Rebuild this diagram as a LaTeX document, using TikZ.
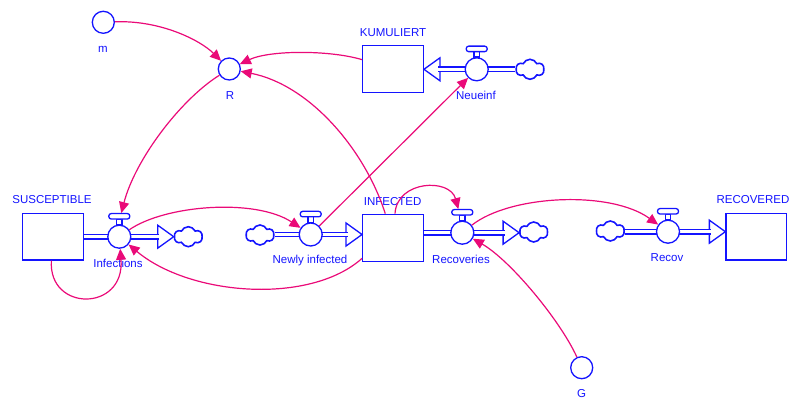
\documentclass[tikz,border=0pt]{standalone}
\usepackage{fontspec}
\setmainfont{Liberation Sans}
\usetikzlibrary{shapes.symbols,arrows.meta,calc}
\definecolor{vblue}{RGB}{20,20,255}
\definecolor{vpink}{RGB}{234,10,120}
\begin{document}
\begin{tikzpicture}[x=1pt,y=-1pt,
 flow/.style={draw=vblue, line width=1.3pt},
 pipe/.style={draw=vblue, line width=1.3pt, double=white, double distance=3.3pt},
 stock/.style={draw=vblue, line width=1.3pt, fill=white, minimum width=60.6pt, minimum height=46.6pt, inner sep=0},
 valve/.style={circle, draw=vblue, line width=1.3pt, fill=white, minimum size=23pt, inner sep=0},
 aux/.style={circle, draw=vblue, line width=1.3pt, fill=white, minimum size=22pt, inner sep=0},
 lbl/.style={text=vblue, font=\fontsize{11.5}{13}\selectfont, inner sep=0},
 cloudy/.style={cloud, draw=vblue, line width=1.6pt, cloud puffs=6, cloud puff arc=130, cloud ignores aspect, minimum width=28pt, minimum height=20pt, inner sep=0, fill=white},
 conn/.style={draw=vpink, line width=1.2pt, -{Triangle[length=11pt,width=10pt]}},
 head/.style={draw=vblue, line width=1.3pt, fill=white, line join=miter}
]
\useasboundingbox (0,0) rectangle (794,403);

% auxiliaries
\node[aux] (m) at (103.3,22.3) {};
\node[lbl] (mL) at (103,49) {m};
\node[aux] (R) at (229.3,69) {};
\node[lbl] (RL) at (230,96) {R};
\node[aux] (G) at (581.7,367.7) {};
\node[lbl] (GL) at (581.7,394) {G};

% stocks
\node[stock] (kum) at (393,69) {};
\node[lbl] (kumL) at (393,32.7) {KUMULIERT};
\node[stock] (sus) at (53,236.7) {};
\node[lbl] (susL) at (52,200) {SUSCEPTIBLE};
\node[stock, minimum height=47.4pt] (infd) at (393,238) {};
\node[lbl] (infdL) at (392.7,201.7) {INFECTED};
\node[stock] (recd) at (756.3,236.7) {};
\node[lbl] (recdL) at (753,200) {RECOVERED};

% clouds
\node[cloudy] (c1) at (188.3,236.7) {};
\node[cloudy] (c2) at (260,235) {};
\node[cloudy] (c3) at (533.7,232) {};
\node[cloudy] (c4) at (610.3,231) {};
\node[cloudy] (c5) at (530,69.3) {};

% valve positions
\coordinate (infP) at (119.3,236.7);
\coordinate (niP) at (310.7,234.5);
\coordinate (recP) at (462.3,232.7);
\coordinate (recovP) at (668,231.7);
\coordinate (neuP) at (476.7,69.3);

% pipes (behind valves)
\draw[pipe] (sus.east |- infP) -- (infP);
\draw[pipe] (c2.east |- niP) -- (niP);
\draw[pipe] (infd.east |- recP) -- (recP);
\draw[pipe] (c4.east |- recovP) -- (recovP);
\draw[pipe] (c5.west |- neuP) -- (neuP);

% flow arrow heads
\coordinate (t1) at (c1.west |- infP);
\draw[head] (t1) -- ++(-16,-11.5) -- ++(0,23) -- cycle;
\draw[pipe] (infP) -- ($(t1)+(-14.5,0)$);
\coordinate (t2) at (infd.west |- niP);
\draw[head] (t2) -- ++(-16,-11.5) -- ++(0,23) -- cycle;
\draw[pipe] (niP) -- ($(t2)+(-14.5,0)$);
\coordinate (t3) at (c3.west |- recP);
\draw[head] (t3) -- ++(-16,-11.5) -- ++(0,23) -- cycle;
\draw[pipe] (recP) -- ($(t3)+(-14.5,0)$);
\coordinate (t4) at (recd.west |- recovP);
\draw[head] (t4) -- ++(-16,-11.5) -- ++(0,23) -- cycle;
\draw[pipe] (recovP) -- ($(t4)+(-14.5,0)$);
\coordinate (t5) at (kum.east |- neuP);
\draw[head] (t5) -- ++(16,-11.5) -- ++(0,23) -- cycle;
\draw[pipe] (neuP) -- ($(t5)+(14.5,0)$);

% valves
\node[valve] (inf) at (infP) {};
\node[valve] (ni) at (niP) {};
\node[valve] (rec) at (recP) {};
\node[valve] (recov) at (recovP) {};
\node[valve] (neu) at (neuP) {};
\foreach \v in {inf,ni,rec,recov,neu}{
  \draw[flow, fill=white] ([xshift=-2.8pt]\v.north) rectangle ([xshift=2.8pt,yshift=5.5pt]\v.north);
  \draw[flow, fill=white, rounded corners=2.5pt] ([xshift=-10.5pt,yshift=5.5pt]\v.north) rectangle ([xshift=10.5pt,yshift=11pt]\v.north);
}
\node[lbl] (infL) at (118,263) {Infections};
\node[lbl] (niL) at (310,260.7) {Newly infected};
\node[lbl] (recL) at (461,259) {Recoveries};
\node[lbl] (recovL) at (667,257.7) {Recov};
\node[lbl] (neuL) at (476,95.5) {Neueinf};

% connectors
\draw[conn] (m) .. controls (160,20) and (200,40) .. (R);
\draw[conn] (kum) .. controls (330,50) and (270,50) .. (R);
\draw[conn] (infd) .. controls (365,150) and (310,85) .. (R);
\coordinate (infH) at ([xshift=2pt,yshift=11.5pt]inf.north);
\draw[conn] (R) .. controls (180,100) and (135,160) .. (infH);
\draw[conn] (inf) .. controls (165,205) and (255,198) .. (ni);
\draw[conn] (sus) .. controls (48,312) and (125,312) .. (inf);
\draw[conn] ([yshift=4pt]infd.south west) .. controls (310,305) and (190,296) .. (inf);
\draw[conn] (ni) -- (neu);
\coordinate (recH) at ([xshift=-4pt,yshift=11.5pt]rec.north);
\draw[conn] ([xshift=2pt]infd.north) .. controls (397,180) and (450,178) .. (recH);
\draw[conn] (rec) .. controls (510,195) and (610,190) .. (recov);
\draw[conn] (G) .. controls (560,320) and (510,260) .. (rec);
\end{tikzpicture}
\end{document}
